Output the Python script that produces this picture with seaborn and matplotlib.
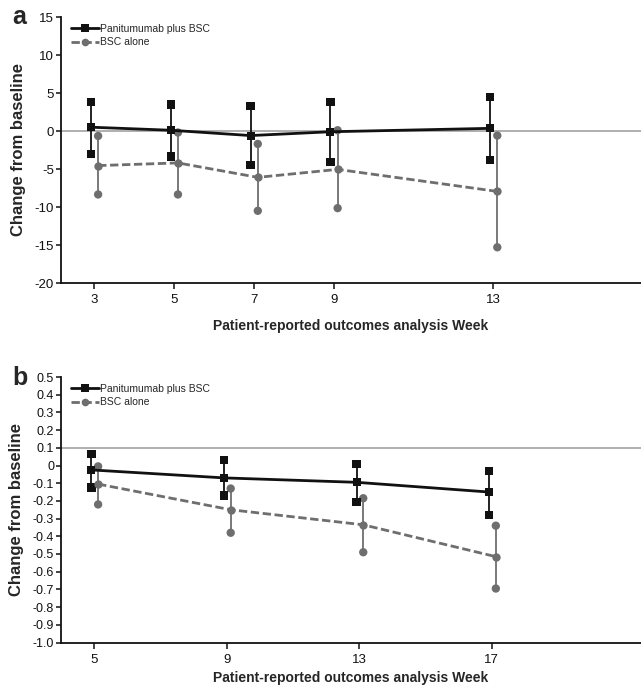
import numpy as np
import pandas as pd
import matplotlib
matplotlib.use("Agg")
import matplotlib.pyplot as plt
from matplotlib.lines import Line2D
import seaborn as sns

# ---------------- data ----------------
groups = ["Panitumumab plus BSC", "BSC alone"]

weeks_a = [3, 5, 7, 9, 13]
pan_mean_a = [0.5, 0.1, -0.6, -0.1, 0.35]
pan_low_a = [-3.0, -3.35, -4.5, -4.1, -3.85]
pan_high_a = [3.85, 3.5, 3.25, 3.85, 4.45]
bsc_mean_a = [-4.55, -4.2, -6.1, -5.05, -7.95]
bsc_low_a = [-8.35, -8.35, -10.5, -10.15, -15.3]
bsc_high_a = [-0.65, -0.2, -1.7, 0.1, -0.6]

weeks_b = [5, 9, 13, 17]
pan_mean_b = [-0.025, -0.07, -0.095, -0.15]
pan_low_b = [-0.125, -0.17, -0.205, -0.28]
pan_high_b = [0.065, 0.03, 0.01, -0.03]
bsc_mean_b = [-0.105, -0.25, -0.335, -0.515]
bsc_low_b = [-0.22, -0.38, -0.49, -0.695]
bsc_high_b = [-0.005, -0.13, -0.185, -0.34]

yticks_a = [-20, -15, -10, -5, 0, 5, 10, 15]
yticks_b = [-1.0, -0.9, -0.8, -0.7, -0.6, -0.5, -0.4, -0.3, -0.2, -0.1, 0, 0.1, 0.2, 0.3, 0.4, 0.5]
yticklabels_b = ["-1.0", "-0.9", "-0.8", "-0.7", "-0.6", "-0.5", "-0.4", "-0.3", "-0.2", "-0.1",
                 "0", "0.1", "0.2", "0.3", "0.4", "0.5"]

xlabel = "Patient-reported outcomes analysis Week"
ylabel = "Change from baseline"

# ---------------- style ----------------
sns.set_style("ticks")
plt.rcParams["font.family"] = ["Liberation Sans", "DejaVu Sans"]

colors = {groups[0]: "#111111", groups[1]: "#6e6e6e"}
markers = {groups[0]: "s", groups[1]: "o"}
dash_pat = (3.0, 1.3)
dashes = {groups[0]: "", groups[1]: dash_pat}

fig = plt.figure(figsize=(6.41, 6.91), dpi=100)
W, H = 641, 691


def add_axes_px(left, top, right, bottom):
    return fig.add_axes([left / W, 1 - bottom / H, (right - left) / W, (bottom - top) / H])


ax_a = add_axes_px(61, 17, 641, 283)
ax_b = add_axes_px(61, 377, 641, 642.5)


def make_df(weeks, pm, pl, ph, bm, bl, bh, off_p, off_b):
    rows = []
    for w, m, l, h in zip(weeks, pm, pl, ph):
        rows.append(dict(x=w + off_p, mean=m, low=l, high=h, group=groups[0]))
    for w, m, l, h in zip(weeks, bm, bl, bh):
        rows.append(dict(x=w + off_b, mean=m, low=l, high=h, group=groups[1]))
    return pd.DataFrame(rows)


def draw(ax, df, ref_y):
    ax.axhline(ref_y, color="#9a9a9a", lw=1.1, zorder=1)
    for g in groups[::-1]:
        sub = df[df.group == g]
        ax.vlines(sub.x, sub.low, sub.high, color=colors[g], lw=1.3, zorder=2)
        ends = pd.concat([sub[["x", "low"]].rename(columns={"low": "y"}),
                          sub[["x", "high"]].rename(columns={"high": "y"})])
        sns.scatterplot(data=ends, x="x", y="y", ax=ax, color=colors[g], marker=markers[g],
                        s=36, edgecolor="none", zorder=3, legend=False)
    sns.lineplot(data=df, x="x", y="mean", hue="group", style="group", hue_order=groups,
                 style_order=groups, palette=colors, markers=markers, dashes=dashes,
                 markersize=6, markeredgewidth=0, linewidth=2.0, ax=ax, legend=False,
                 zorder=4, sort=True)
    handles = [Line2D([], [], color=colors[g], marker=markers[g], markersize=5.5,
                      markeredgewidth=0, lw=2.0,
                      ls="-" if g == groups[0] else (0, dash_pat)) for g in groups]
    ax.legend(handles, groups, loc="upper left", bbox_to_anchor=(0.018, 0.975), frameon=False,
              fontsize=7.5, handlelength=2.6, handletextpad=0.1, labelspacing=0.35,
              borderaxespad=0, borderpad=0)
    sns.despine(ax=ax)
    for sp in ["left", "bottom"]:
        ax.spines[sp].set_linewidth(1.3)
        ax.spines[sp].set_color("#111111")
    ax.tick_params(axis="x", length=4, width=1.1, pad=4, labelsize=9.5, colors="#111111")
    ax.tick_params(axis="y", length=3.5, width=1.1, pad=1.5, colors="#111111")
    ax.set_ylabel(ylabel, fontsize=12, fontweight="bold", labelpad=6)


df_a = make_df(weeks_a, pan_mean_a, pan_low_a, pan_high_a, bsc_mean_a, bsc_low_a, bsc_high_a,
               -0.08, 0.1)
draw(ax_a, df_a, 0)
ax_a.set_xlim(2.17, 16.7)
ax_a.set_ylim(-20, 15)
ax_a.set_xticks(weeks_a)
ax_a.set_xticklabels([str(w) for w in weeks_a])
ax_a.set_yticks(yticks_a)
ax_a.set_yticklabels([str(t) for t in yticks_a])
ax_a.tick_params(axis="y", labelsize=9.5)
ax_a.set_xlabel(xlabel, fontsize=10, fontweight="bold", labelpad=9)

df_b = make_df(weeks_b, pan_mean_b, pan_low_b, pan_high_b, bsc_mean_b, bsc_low_b, bsc_high_b,
               -0.08, 0.12)
draw(ax_b, df_b, 0.1)
ax_b.set_xlim(4.0, 21.5)
ax_b.set_ylim(-1.0, 0.5)
ax_b.set_xticks(weeks_b)
ax_b.set_xticklabels([str(w) for w in weeks_b])
ax_b.set_yticks(yticks_b)
ax_b.set_yticklabels(yticklabels_b)
ax_b.tick_params(axis="y", labelsize=9)
ax_b.set_xlabel(xlabel, fontsize=10, fontweight="bold", labelpad=4)

fig.text(12 / W, 1 - 17 / H, "a", fontsize=18, fontweight="bold", ha="left", va="center")
fig.text(12 / W, 1 - 378 / H, "b", fontsize=18, fontweight="bold", ha="left", va="center")

fig.savefig("out.png", dpi=100)
